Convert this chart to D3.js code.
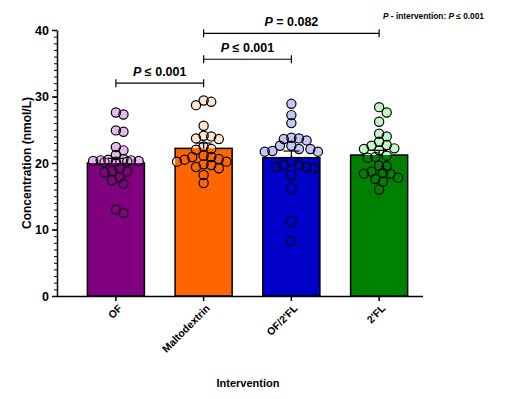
<!DOCTYPE html>
<html><head><meta charset="utf-8">
<script src="https://cdn.jsdelivr.net/npm/d3@7/dist/d3.min.js"></script>
<style>
body{margin:0;background:#fff;}
text{font-family:"Liberation Sans",Arial,sans-serif;font-weight:bold;}
</style></head>
<body><svg id="chart" width="514" height="399"></svg>
<script>
const categories = ["OF", "Maltodextrin", "OF/2'FL", "2'FL"];
const means = [20.0, 22.2, 20.8, 21.2];
const sems = [0.7, 0.8, 1.0, 0.7];
const ofValues = [27.6, 27.3, 24.7, 24.9, 22.4, 21.9, 21.2, 20.6, 20.3, 20.4, 20.2, 20.3, 20.5, 20.2, 20.4, 20.1, 19.2, 18.7, 18.6, 18.8, 17.9, 17.4, 16.9, 13.0, 12.5];
const maltodextrinValues = [29.2, 29.4, 28.7, 25.6, 24.1, 24.0, 23.7, 23.6, 22.5, 22.1, 22.0, 20.9, 20.9, 21.1, 20.6, 20.2, 20.5, 20.2, 19.8, 19.7, 19.4, 19.2, 18.2, 17.0];
const of2flValues = [28.9, 27.2, 26.0, 23.8, 23.4, 23.7, 23.6, 22.1, 21.7, 21.7, 21.8, 22.1, 22.6, 22.6, 20.2, 19.2, 19.4, 19.7, 19.4, 19.7, 18.2, 16.2, 11.2, 8.3];
const fl2Values = [28.4, 27.6, 26.2, 24.4, 24.0, 23.2, 22.7, 22.6, 22.2, 22.1, 21.9, 21.1, 20.9, 20.8, 19.5, 19.6, 18.7, 18.5, 18.4, 18.4, 17.8, 17.6, 17.2, 16.0];
const yTicks = [0, 10, 20, 30, 40];
const comparisons = [
  {from: 0, to: 1, level: 32.0, label: "≤ 0.001"},
  {from: 1, to: 2, level: 35.6, label: "≤ 0.001"},
  {from: 1, to: 3, level: 39.5, label: "= 0.082"}
];
const yTitle = "Concentration (nmol/L)";
const xTitle = "Intervention";

const groups = [ofValues, maltodextrinValues, of2flValues, fl2Values];
const barColors = ["#800080", "#ff6600", "#0000c8", "#008000"];
const pointColors = ["#e6b9ec", "#fde6d4", "#c3c6f7", "#c6f5c6"];

const svg = d3.select("#chart");
const x0 = 57, plotRight = 423;
const x = d3.scaleBand().domain(categories).range([72, plotRight]).paddingInner(0.35).paddingOuter(0.175);
const y = d3.scaleLinear().domain([0, 40]).range([296, 30]);

// bars
const barsG = svg.append("g");
categories.forEach((c, i) => {
  svg.append("clipPath").attr("id", "clip" + i).append("rect")
    .attr("x", x(c)).attr("y", y(means[i])).attr("width", x.bandwidth()).attr("height", y(0) - y(means[i]));
});
barsG.selectAll("rect").data(categories).join("rect")
  .attr("x", d => x(d)).attr("y", (d, i) => y(means[i]))
  .attr("width", x.bandwidth()).attr("height", (d, i) => y(0) - y(means[i]))
  .attr("fill", (d, i) => barColors[i]).attr("stroke", "#000").attr("stroke-width", 1.5);

// beeswarm layout
const r = 4.6, minD = 7.6, step = 3.8;
function swarm(vals, cx, maxOff) {
  const placed = [];
  vals.slice().sort((a, b) => b - a).forEach(v => {
    const py = y(v);
    let chosen = null, bestScore = -1, bestDx = 0;
    for (let k = 0; k * step <= maxOff && chosen === null; k++) {
      const cands = k === 0 ? [0] : [k * step, -k * step];
      for (const dx of cands) {
        const md = placed.length ? d3.min(placed, p => Math.hypot(p.x - (cx + dx), p.y - py)) : 1e9;
        if (md >= minD) { chosen = dx; break; }
        if (md > bestScore) { bestScore = md; bestDx = dx; }
      }
    }
    if (chosen === null) chosen = bestDx;
    placed.push({v: v, x: cx + chosen, y: py});
  });
  return placed;
}
const layouts = groups.map((vals, i) => swarm(vals, x(categories[i]) + x.bandwidth() / 2, x.bandwidth() / 2 - 1));

const ptsG = svg.append("g");
layouts.forEach((pts, i) => {
  ptsG.append("g").selectAll("circle").data(pts).join("circle")
    .attr("cx", d => d.x).attr("cy", d => d.y).attr("r", r).attr("fill", pointColors[i]);
  ptsG.append("g").attr("clip-path", "url(#clip" + i + ")").selectAll("circle").data(pts).join("circle")
    .attr("cx", d => d.x).attr("cy", d => d.y).attr("r", r).attr("fill", barColors[i]);
  ptsG.append("g").selectAll("circle").data(pts).join("circle")
    .attr("cx", d => d.x).attr("cy", d => d.y).attr("r", r).attr("fill", "none")
    .attr("stroke", "#000").attr("stroke-width", 1.2);
});

// error bars (mean + SEM)
const errG = svg.append("g").attr("stroke", "#000").attr("stroke-width", 1.2);
categories.forEach((c, i) => {
  const cx = x(c) + x.bandwidth() / 2;
  errG.append("line").attr("x1", cx).attr("x2", cx).attr("y1", y(means[i])).attr("y2", y(means[i] + sems[i]));
  errG.append("line").attr("x1", cx - 8).attr("x2", cx + 8).attr("y1", y(means[i] + sems[i])).attr("y2", y(means[i] + sems[i]));
});

// y axis
const yMinor = svg.append("g").attr("transform", `translate(${x0},0)`)
  .call(d3.axisLeft(y).tickValues(d3.range(0, 41, 1)).tickSize(3).tickFormat(""));
yMinor.select(".domain").remove();
yMinor.selectAll("line").attr("stroke-width", 1);
const yAx = svg.append("g").attr("transform", `translate(${x0},0)`)
  .call(d3.axisLeft(y).tickValues(yTicks).tickSize(5).tickSizeOuter(0));
yAx.select(".domain").attr("stroke-width", 1.5);
yAx.selectAll("line").attr("stroke-width", 1.5);
yAx.selectAll("text").attr("font-size", 12.5).attr("font-family", "Liberation Sans, Arial, sans-serif").attr("font-weight", "bold").attr("fill", "#000");

// x axis
const xAx = svg.append("g").attr("transform", `translate(0,${y(0)})`)
  .call(d3.axisBottom(x).tickSize(5).tickSizeOuter(0).tickFormat(""));
xAx.select(".domain").attr("d", `M${x0},0.5H${plotRight}`).attr("stroke-width", 1.5);
xAx.selectAll("line").attr("stroke-width", 1.5);
svg.append("g").selectAll("text").data(categories).join("text")
  .attr("transform", d => `translate(${x(d) + x.bandwidth() / 2 + 7},${y(0) + 13}) rotate(-45)`)
  .attr("text-anchor", "end").attr("font-size", 10.5).text(d => d);

// titles
svg.append("text").attr("transform", `translate(31,${(y(0) + y(40)) / 2}) rotate(-90)`)
  .attr("text-anchor", "middle").attr("font-size", 12).text(yTitle);
svg.append("text").attr("x", 248).attr("y", 387).attr("text-anchor", "middle").attr("font-size", 11).text(xTitle);

// comparison brackets
const brG = svg.append("g");
comparisons.forEach(cmp => {
  const xa = x(categories[cmp.from]) + x.bandwidth() / 2;
  const xb = x(categories[cmp.to]) + x.bandwidth() / 2;
  const yy = y(cmp.level);
  brG.append("path").attr("d", `M${xa},${yy - 4}V${yy + 4}M${xa},${yy}H${xb}M${xb},${yy - 4}V${yy + 4}`)
    .attr("stroke", "#000").attr("stroke-width", 1.2).attr("fill", "none");
  const t = brG.append("text").attr("x", (xa + xb) / 2).attr("y", yy - 7).attr("text-anchor", "middle").attr("font-size", 12.5);
  t.append("tspan").attr("font-style", "italic").text("P");
  t.append("tspan").text(" " + cmp.label);
});

// overall note
const note = svg.append("text").attr("x", 383).attr("y", 19).attr("font-size", 8.3);
note.append("tspan").attr("font-style", "italic").text("P");
note.append("tspan").text(" - intervention: ");
note.append("tspan").attr("font-style", "italic").text("P");
note.append("tspan").text(" ≤ 0.001");
</script></body></html>
